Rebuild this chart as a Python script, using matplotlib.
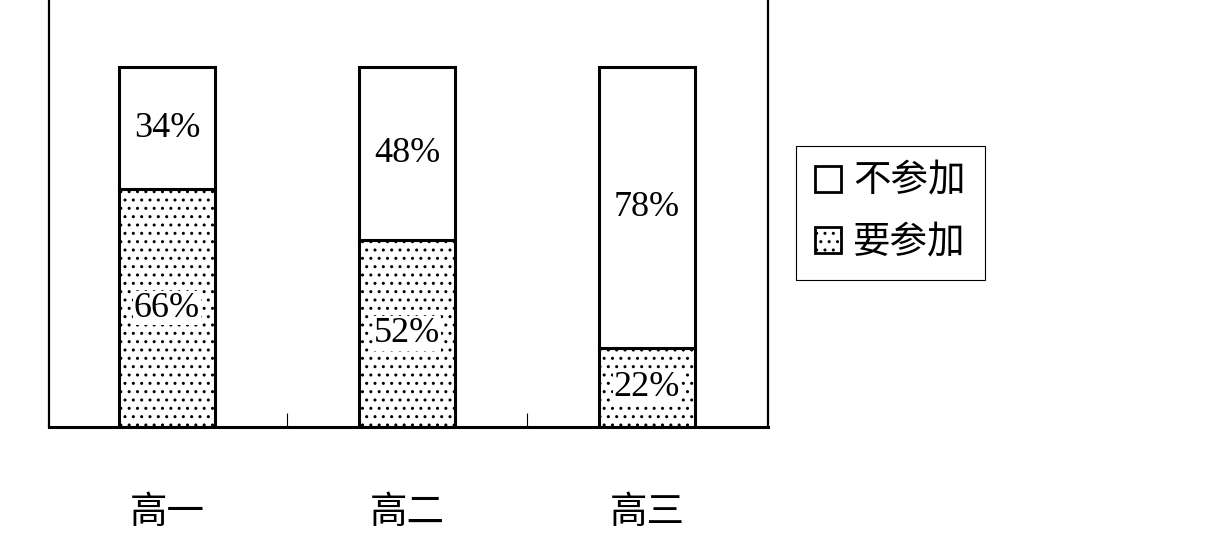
import matplotlib
matplotlib.use("Agg")
import matplotlib.pyplot as plt
from matplotlib.patches import Patch

# data (percent)
grades = ["高一", "高二", "高三"]
join = [66, 52, 22]      # 要参加
not_join = [34, 48, 78]  # 不参加
series_names = ["不参加", "要参加"]

plt.rcParams['font.family'] = ['Liberation Serif', 'Noto Sans CJK SC']
plt.rcParams['hatch.color'] = '#8a8a8a'
plt.rcParams['hatch.linewidth'] = 1.0

fig = plt.figure(figsize=(12.2, 5.5), dpi=100)
ax = fig.add_axes([49/1220, 123/550, 719/1220, 450/550])

x = list(range(len(grades)))
w = 0.4
ax.bar(x, join, width=w, color='white', edgecolor='black', linewidth=2.2, hatch='..')
ax.bar(x, not_join, width=w, bottom=join, color='white', edgecolor='black', linewidth=2.2)

lab_box = dict(facecolor='white', edgecolor='none', pad=0.5)
for xi, a, b in zip(x, join, not_join):
    ax.text(xi, a / 2, f"{a}%", ha='center', va='center', fontsize=26, bbox=lab_box)
    ax.text(xi, a + b / 2, f"{b}%", ha='center', va='center', fontsize=26)

ax.set_xlim(-0.4917, 2.504)
ax.set_ylim(0, 125)
ax.set_yticks([])
for s in ax.spines.values():
    s.set_linewidth(1.6)
ax.spines['bottom'].set_linewidth(2.2)

# tick marks between the categories, labels under the bars
ax.set_xticks([0.5, 1.5])
ax.set_xticklabels([])
ax.tick_params(axis='x', which='major', direction='in', length=10, width=0.8)
ax.set_xticks(x, minor=True)
ax.set_xticklabels(grades, minor=True, fontsize=27)
ax.tick_params(axis='x', which='minor', length=0, pad=50)

handles = [Patch(facecolor='white', edgecolor='black', linewidth=2),
           Patch(facecolor='white', edgecolor='black', linewidth=2, hatch='..')]
leg = fig.legend(handles, series_names, loc='upper left',
                 bbox_to_anchor=(796/1220, 1 - 146/550), bbox_transform=fig.transFigure,
                 fontsize=27, handlelength=0.7, handleheight=0.7, handletextpad=0.33,
                 labelspacing=0.7, borderpad=0.5, borderaxespad=0, fancybox=False,
                 framealpha=1, edgecolor='black')
leg.get_frame().set_linewidth(0.8)

fig.savefig("out.png", dpi=100)
